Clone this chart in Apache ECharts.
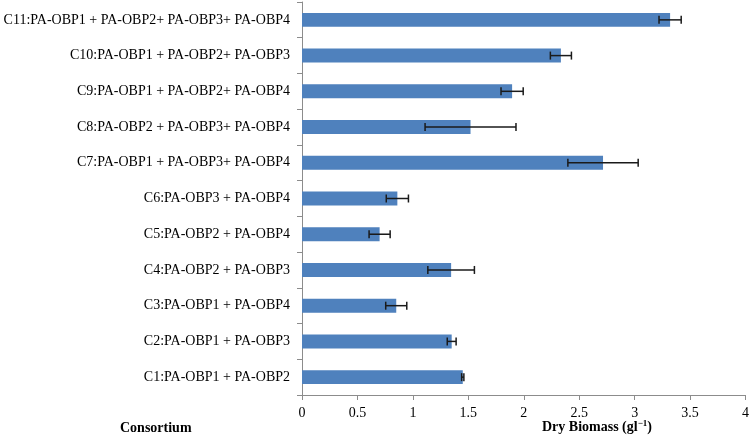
<!DOCTYPE html>
<html>
<head>
<meta charset="utf-8">
<script src="https://cdn.jsdelivr.net/npm/echarts@6/dist/echarts.min.js"></script>
<style>
html,body{margin:0;padding:0;background:#fff;}
#chart{width:752px;height:437px;}
</style>
</head>
<body>
<div id="chart"></div>
<script>
var categories = [
  'C1:PA-OBP1 + PA-OBP2',
  'C2:PA-OBP1 + PA-OBP3',
  'C3:PA-OBP1 + PA-OBP4',
  'C4:PA-OBP2 + PA-OBP3',
  'C5:PA-OBP2 + PA-OBP4',
  'C6:PA-OBP3 + PA-OBP4',
  'C7:PA-OBP1 + PA-OBP3+ PA-OBP4',
  'C8:PA-OBP2 + PA-OBP3+ PA-OBP4',
  'C9:PA-OBP1 + PA-OBP2+ PA-OBP4',
  'C10:PA-OBP1 + PA-OBP2+ PA-OBP3',
  'C11:PA-OBP1 + PA-OBP2+ PA-OBP3+ PA-OBP4'
];
var biomass = [1.45, 1.35, 0.85, 1.345, 0.70, 0.86, 2.715, 1.52, 1.895, 2.335, 3.32];
var errors  = [0.01, 0.04, 0.095, 0.21, 0.095, 0.10, 0.317, 0.41, 0.10, 0.095, 0.10];
var xTicks = [0, 0.5, 1, 1.5, 2, 2.5, 3, 3.5, 4];

var errData = biomass.map(function (v, i) { return [i, v - errors[i], v + errors[i]]; });

var chart = echarts.init(document.getElementById('chart'));
var font = '"Liberation Serif", "Times New Roman", serif';
chart.setOption({
  animation: false,
  grid: { left: 302, right: 4, top: 2, bottom: 42, containLabel: false },
  xAxis: {
    type: 'value',
    min: xTicks[0],
    max: xTicks[xTicks.length - 1],
    interval: 0.5,
    splitLine: { show: false },
    axisLine: { show: true, lineStyle: { color: '#8c8c8c', width: 1 } },
    axisTick: { show: true, length: 5, lineStyle: { color: '#8c8c8c' } },
    axisLabel: { color: '#000', fontFamily: font, fontSize: 14, margin: 11 }
  },
  yAxis: {
    type: 'category',
    data: categories,
    axisLine: { show: true, lineStyle: { color: '#8c8c8c', width: 1 } },
    axisTick: { show: true, length: 5, lineStyle: { color: '#8c8c8c' } },
    axisLabel: { color: '#000', fontFamily: font, fontSize: 14, margin: 12 }
  },
  series: [
    {
      type: 'bar',
      data: biomass,
      barWidth: '39%',
      itemStyle: { color: '#4f81bd' }
    },
    {
      type: 'custom',
      data: errData,
      z: 10,
      renderItem: function (params, api) {
        var y = api.value(0);
        var lo = api.coord([api.value(1), y]);
        var hi = api.coord([api.value(2), y]);
        var cap = 4;
        var style = { stroke: '#1a1a1a', lineWidth: 1.5 };
        return {
          type: 'group',
          children: [
            { type: 'line', shape: { x1: lo[0], y1: lo[1], x2: hi[0], y2: hi[1] }, style: style },
            { type: 'line', shape: { x1: lo[0], y1: lo[1] - cap, x2: lo[0], y2: lo[1] + cap }, style: style },
            { type: 'line', shape: { x1: hi[0], y1: hi[1] - cap, x2: hi[0], y2: hi[1] + cap }, style: style }
          ]
        };
      }
    }
  ],
  graphic: [
    {
      type: 'text',
      left: 120, top: 421,
      style: { text: 'Consortium', fontFamily: font, fontSize: 14, fontWeight: 'bold', fill: '#000' }
    },
    {
      type: 'text',
      left: 542, top: 419,
      style: {
        text: '{a|Dry Biomass (gl}{s|−1}{a|)}',
        rich: {
          a: { fontFamily: font, fontSize: 14, fontWeight: 'bold', fill: '#000', color: '#000' },
          s: { fontFamily: font, fontSize: 9, fontWeight: 'bold', color: '#000', padding: [0, 0, 7, 0] }
        }
      }
    }
  ]
});
</script>
</body>
</html>
